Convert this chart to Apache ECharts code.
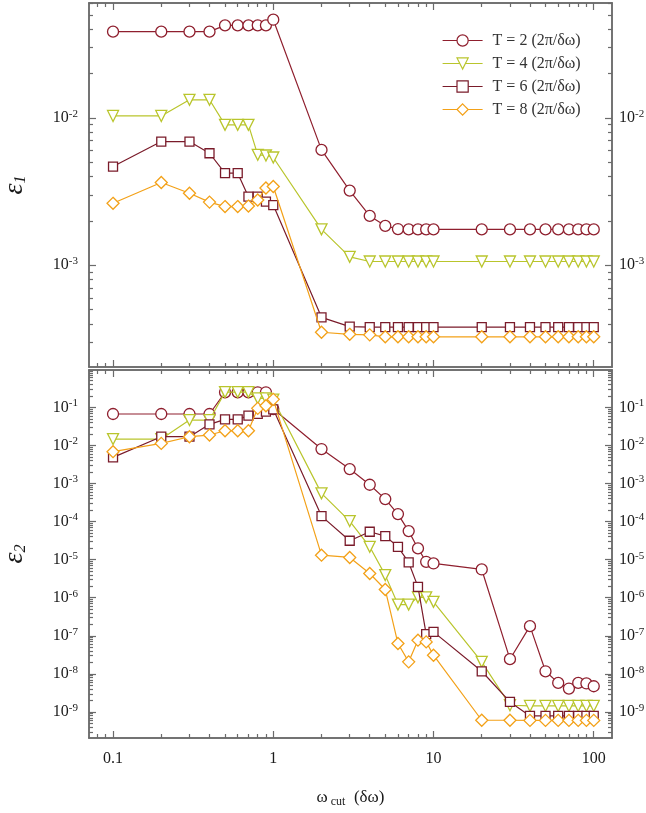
<!DOCTYPE html>
<html>
<head>
<meta charset="utf-8">
<script src="https://cdn.jsdelivr.net/npm/echarts@6/dist/echarts.min.js"></script>
<style>
html,body{margin:0;padding:0;background:#fff;}
#chart{width:646px;height:813px;}
</style>
</head>
<body>
<div id="chart"></div>
<script>
// ---- data ----
const xValues = [0.1,0.2,0.3,0.4,0.5,0.6,0.7,0.8,0.9,1,2,3,4,5,6,7,8,9,10,20,30,40,50,60,70,80,90,100];
const seriesNames = ['T = 2 (2\u03c0/\u03b4\u03c9)','T = 4 (2\u03c0/\u03b4\u03c9)','T = 6 (2\u03c0/\u03b4\u03c9)','T = 8 (2\u03c0/\u03b4\u03c9)'];

const eps1T2 = [0.0384,0.0384,0.0384,0.0384,0.0424,0.0424,0.0424,0.0424,0.0424,0.0463,0.00606,0.00321,0.00216,0.00185,0.00176,0.00175,0.00175,0.00175,0.00175,0.00175,0.00175,0.00175,0.00175,0.00175,0.00175,0.00175,0.00175,0.00175];
const eps1T4 = [0.0103,0.0103,0.01325,0.01325,0.00896,0.00896,0.00896,0.00561,0.00555,0.00538,0.00175,0.00114,0.00106,0.00106,0.00106,0.00106,0.00106,0.00106,0.00106,0.00106,0.00106,0.00106,0.00106,0.00106,0.00106,0.00106,0.00106,0.00106];
const eps1T6 = [0.00467,0.0069,0.0069,0.00575,0.00421,0.00421,0.00292,0.00292,0.0027,0.00256,0.000443,0.000383,0.00038,0.00038,0.00038,0.00038,0.00038,0.00038,0.00038,0.00038,0.00038,0.00038,0.00038,0.00038,0.00038,0.00038,0.00038,0.00038];
const eps1T8 = [0.00263,0.00364,0.00308,0.00268,0.0025,0.0025,0.00252,0.00277,0.00334,0.00342,0.000351,0.00034,0.000337,0.000327,0.000327,0.000327,0.000327,0.000327,0.000327,0.000327,0.000327,0.000327,0.000327,0.000327,0.000327,0.000327,0.000327,0.000327];

const eps2T2 = [0.0667,0.0667,0.0667,0.0667,0.248,0.248,0.248,0.248,0.248,0.09,0.00802,0.00239,0.000925,0.000389,0.000157,5.61e-5,1.97e-5,8.78e-6,7.94e-6,5.52e-6,2.43e-8,1.79e-7,1.17e-8,5.8e-9,4.12e-9,5.8e-9,5.6e-9,4.73e-9];
const eps2T4 = [0.0147,0.0147,0.0463,0.0463,0.25,0.25,0.25,0.172,0.172,0.16,0.00055,1.03e-4,2.17e-5,3.92e-6,6.6e-7,6.6e-7,1.02e-6,1.02e-6,7.76e-7,2.07e-8,1.5e-9,1.44e-9,1.44e-9,1.44e-9,1.44e-9,1.44e-9,1.44e-9,1.44e-9];
const eps2T6 = [0.00485,0.0169,0.0169,0.0357,0.0483,0.0483,0.0602,0.067,0.0767,0.0885,0.000139,3.13e-5,5.4e-5,4.15e-5,2.17e-5,8.43e-6,1.93e-6,1.1e-7,1.27e-7,1.17e-8,1.83e-9,7.85e-10,7.85e-10,7.85e-10,7.85e-10,7.85e-10,7.85e-10,7.85e-10];
const eps2T8 = [0.00683,0.0113,0.0169,0.0187,0.0243,0.0243,0.0243,0.094,0.11,0.162,1.31e-5,1.14e-5,4.32e-6,1.64e-6,6.27e-8,2.07e-8,7.66e-8,6.92e-8,3.09e-8,6.05e-10,6.05e-10,6e-10,6e-10,6e-10,6e-10,6e-10,6e-10,6e-10];

const xMajorTicks = [0.1,1,10,100];
const xMinorTicks = [0.08,0.09,0.2,0.3,0.4,0.5,0.6,0.7,0.8,0.9,2,3,4,5,6,7,8,9,20,30,40,50,60,70,80,90];
const y1MajorTicks = [1e-3,1e-2];
const y1MinorTicks = [3e-4,4e-4,5e-4,6e-4,7e-4,8e-4,9e-4,2e-3,3e-3,4e-3,5e-3,6e-3,7e-3,8e-3,9e-3,2e-2,3e-2,4e-2,5e-2,6e-2];
const y2MajorTicks = [1e-9,1e-8,1e-7,1e-6,1e-5,1e-4,1e-3,1e-2,1e-1];
const y2MinorTicks = [];
for (let e = -10; e <= -1; e++) {
  for (let m = 2; m <= 9; m++) y2MinorTicks.push(Number((m + 'e' + e)));
}

// ---- styling / build ----
const FONT = 'Liberation Serif';
const AX = '#6b6b6b';
const TXT = '#1a1a1a';
const colors = ['#8f1f2e', '#b9c52c', '#7a1b2a', '#f3a118'];
const symbols = ['circle', 'triangle', 'rect', 'diamond'];
const symSizes = [11, 11, 9, 12];
const symRot = [0, 180, 0, 0];

const xRange = [0.0708, 130];
const y1Range = [2.04e-4, 0.0601];
const y2Range = [2.07e-10, 0.955];

function supFmt(v) {
  const e = Math.round(Math.log10(v));
  return '{b|10}{s|' + e + '}';
}
const supRich = {
  b: {fontFamily: FONT, fontSize: 16, color: TXT},
  s: {fontFamily: FONT, fontSize: 11, color: TXT, padding: [0, 0, 8, 0]}
};

function xAxes(gi, showLabels, name) {
  const base = {type: 'log', logBase: 10, min: xRange[0], max: xRange[1], gridIndex: gi,
    splitLine: {show: false}, axisLine: {show: true, onZero: false, lineStyle: {color: AX, width: 1.5}}};
  const list = [];
  ['bottom', 'top'].forEach(pos => {
    list.push(Object.assign({}, base, {
      position: pos,
      axisTick: {show: true, inside: true, length: 7, customValues: xMajorTicks, lineStyle: {color: AX, width: 1.2}},
      axisLabel: {show: showLabels && pos === 'bottom', customValues: xMajorTicks, margin: 13,
        fontFamily: FONT, fontSize: 16, color: TXT,
        formatter: v => String(+Number(v).toPrecision(3))},
      name: (pos === 'bottom' && name) ? name : '',
      nameLocation: 'middle', nameGap: 49,
      nameTextStyle: {rich: {
        w: {fontFamily: FONT, fontSize: 17, color: TXT},
        c: {fontFamily: FONT, fontSize: 12, color: TXT, padding: [9, 0, 0, 3]},
        n: {fontFamily: FONT, fontSize: 17, color: TXT}
      }}
    }));
    list.push(Object.assign({}, base, {
      position: pos,
      axisTick: {show: true, inside: true, length: 4, customValues: xMinorTicks, lineStyle: {color: AX, width: 1.2}},
      axisLabel: {show: false}
    }));
  });
  return list;
}

function yAxes(gi, range, major, minor, name) {
  const base = {type: 'log', logBase: 10, min: range[0], max: range[1], gridIndex: gi,
    splitLine: {show: false}, axisLine: {show: true, onZero: false, lineStyle: {color: AX, width: 1.5}}};
  const list = [];
  ['left', 'right'].forEach(pos => {
    list.push(Object.assign({}, base, {
      position: pos,
      axisTick: {show: true, inside: true, length: 7, customValues: major, lineStyle: {color: AX, width: 1.2}},
      axisLabel: {show: true, customValues: major, margin: pos === 'left' ? 11 : 7,
        formatter: supFmt, rich: supRich},
      name: pos === 'left' ? name : '',
      nameLocation: 'middle', nameRotate: 90, nameGap: 60,
      nameTextStyle: {rich: {
        e: {fontFamily: FONT, fontSize: 28, fontStyle: 'italic', color: TXT},
        s: {fontFamily: FONT, fontSize: 16, fontStyle: 'italic', color: TXT, padding: [13, 0, 0, 0]}
      }}
    }));
    list.push(Object.assign({}, base, {
      position: pos,
      axisTick: {show: true, inside: true, length: 4, customValues: minor, lineStyle: {color: AX, width: 1.2}},
      axisLabel: {show: false}
    }));
  });
  return list;
}

const xAxisList = xAxes(0, false, '').concat(xAxes(1, true, '{w|\u03c9}{c|cut}{n|  (\u03b4\u03c9)}'));
const yAxisList = yAxes(0, y1Range, y1MajorTicks, y1MinorTicks, '{e|\u03b5}{s|1}')
  .concat(yAxes(1, y2Range, y2MajorTicks, y2MinorTicks, '{e|\u03b5}{s|2}'));

const topData = [eps1T2, eps1T4, eps1T6, eps1T8];
const botData = [eps2T2, eps2T4, eps2T6, eps2T8];

const series = [];
[topData, botData].forEach((set, gi) => {
  set.forEach((vals, i) => {
    series.push({
      name: seriesNames[i],
      type: 'line',
      xAxisIndex: gi * 4,
      yAxisIndex: gi * 4,
      data: xValues.map((x, k) => [x, vals[k]]),
      symbol: symbols[i],
      symbolSize: symSizes[i],
      symbolRotate: symRot[i],
      showSymbol: true,
      showAllSymbol: true,
      lineStyle: {color: colors[i], width: 1.2},
      itemStyle: {color: '#fff', borderColor: colors[i], borderWidth: 1.3},
      emphasis: {disabled: true},
      animation: false,
      z: 2 + i
    });
  });
});

const chart = echarts.init(document.getElementById('chart'), null, {renderer: 'canvas'});
chart.setOption({
  animation: false,
  backgroundColor: '#fff',
  grid: [
    {left: 89, top: 3, width: 523, height: 364, containLabel: false, outerBoundsMode: 'none'},
    {left: 89, top: 370, width: 523, height: 368, containLabel: false, outerBoundsMode: 'none'}
  ],
  legend: {
    data: seriesNames,
    orient: 'vertical',
    left: 442, top: 32, padding: 0,
    itemWidth: 40, itemHeight: 14, itemGap: 6,
    itemStyle: {borderWidth: 1.2},
    lineStyle: {width: 1.2},
    textStyle: {fontFamily: FONT, fontSize: 16, lineHeight: 17, color: '#333', padding: [0, 0, 0, 5]}
  },
  xAxis: xAxisList,
  yAxis: yAxisList,
  series: series
});
</script>
</body>
</html>
